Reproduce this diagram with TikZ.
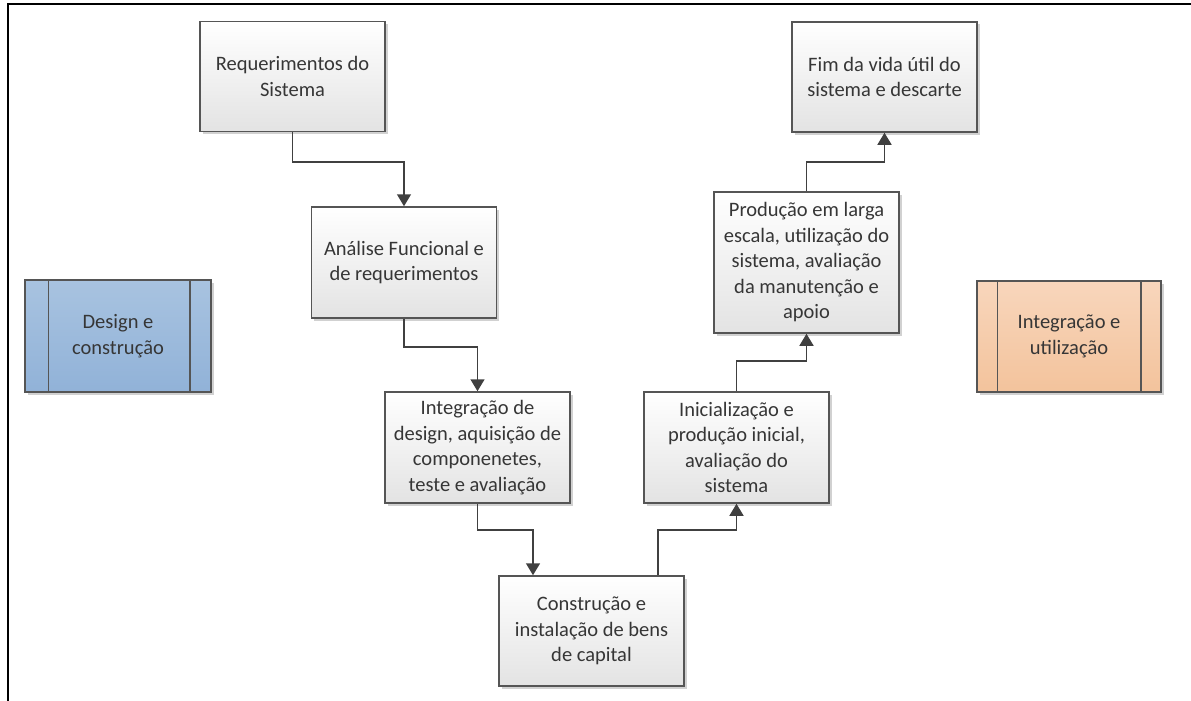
\documentclass[tikz,border=0pt]{standalone}
\usepackage{fontspec}
\setmainfont{Carlito}
\usetikzlibrary{shadows,arrows.meta,calc}
\definecolor{txt}{HTML}{363636}
\definecolor{edge}{HTML}{555555}
\definecolor{conn}{HTML}{404040}
\definecolor{bluetop}{RGB}{168,195,224}
\definecolor{bluebot}{RGB}{145,178,216}
\definecolor{orgtop}{RGB}{248,214,188}
\definecolor{orgbot}{RGB}{243,195,156}
\tikzset{
  stepbox/.style={draw=edge, line width=1.5pt, top color=white, bottom color=black!11,
    minimum width=185pt, minimum height=110pt, align=center, text=txt,
    font=\fontsize{20.5}{25.5}\selectfont, inner sep=2pt,
    drop shadow={shadow xshift=2.5pt, shadow yshift=-2.5pt, fill=black!40, opacity=0.45}},
  sidebox/.style={draw=edge, line width=1.5pt, minimum width=185pt, minimum height=111pt,
    align=center, text=txt, font=\fontsize{20.5}{25.5}\selectfont,
    drop shadow={shadow xshift=2.5pt, shadow yshift=-2.5pt, fill=black!40, opacity=0.45}},
  conline/.style={draw=conn, line width=1.5pt, -{Triangle[width=14pt,length=12pt]}},
  frameline/.style={draw=black, line width=2pt}
}
\begin{document}
\begin{tikzpicture}[x=1pt,y=-1pt]
\useasboundingbox (0,0) rectangle (1191,701);
\draw[frameline] (8,701) -- (8,4) -- (1191,4);

\node[stepbox] (b1) at (292.5,76.5) {Requerimentos do\\Sistema};
\node[stepbox, minimum height=111pt] (b2) at (404,262.5) {Análise Funcional e\\de requerimentos};
\node[stepbox, minimum height=111pt] (b3) at (477.5,447.5) {Integração de\\design, aquisição de\\componenetes,\\teste e avaliação};
\node[stepbox] (b4) at (591.5,631) {Construção e\\instalação de bens\\de capital};
\node[stepbox, minimum height=111pt] (b5) at (736.5,447.5) {Inicialização e\\produção inicial,\\avaliação do\\sistema};
\node[stepbox, minimum height=141pt] (b6) at (806.5,262.5) {Produção em larga\\escala, utilização do\\sistema, avaliação\\da manutenção e\\apoio};
\node[stepbox] (b7) at (884.5,77) {Fim da vida útil do\\sistema e descarte};

\node[sidebox, top color=bluetop, bottom color=bluebot, minimum width=186pt, minimum height=112pt] (s1) at (118,336) {Design e\\construção};
\draw[edge, line width=1.5pt] ($(s1.north west)+(24,0)$) -- ($(s1.south west)+(24,0)$);
\draw[edge, line width=1.5pt] ($(s1.north east)+(-22,0)$) -- ($(s1.south east)+(-22,0)$);

\node[sidebox, top color=orgtop, bottom color=orgbot, minimum width=184pt] (s2) at (1069,336.5) {Integração e\\utilização};
\draw[edge, line width=1.5pt] ($(s2.north west)+(21,0)$) -- ($(s2.south west)+(21,0)$);
\draw[edge, line width=1.5pt] ($(s2.north east)+(-21,0)$) -- ($(s2.south east)+(-21,0)$);

\coordinate (b4in) at ([xshift=-58.5pt]b4.north);
\coordinate (b4out) at ([xshift=66.5pt]b4.north);

\draw[conline] (b1.south) -- (b1.south |- 0,162) -| (b2.north);
\draw[conline] (b2.south) -- (b2.south |- 0,347) -| (b3.north);
\draw[conline] (b3.south) -- (b3.south |- 0,530) -| (b4in);
\draw[conline] (b4out) -- (b4out |- 0,530) -| (b5.south);
\draw[conline] (b5.north) -- (b5.north |- 0,361) -| (b6.south);
\draw[conline] (b6.north) -- (b6.north |- 0,162) -| (b7.south);
\end{tikzpicture}
\end{document}
